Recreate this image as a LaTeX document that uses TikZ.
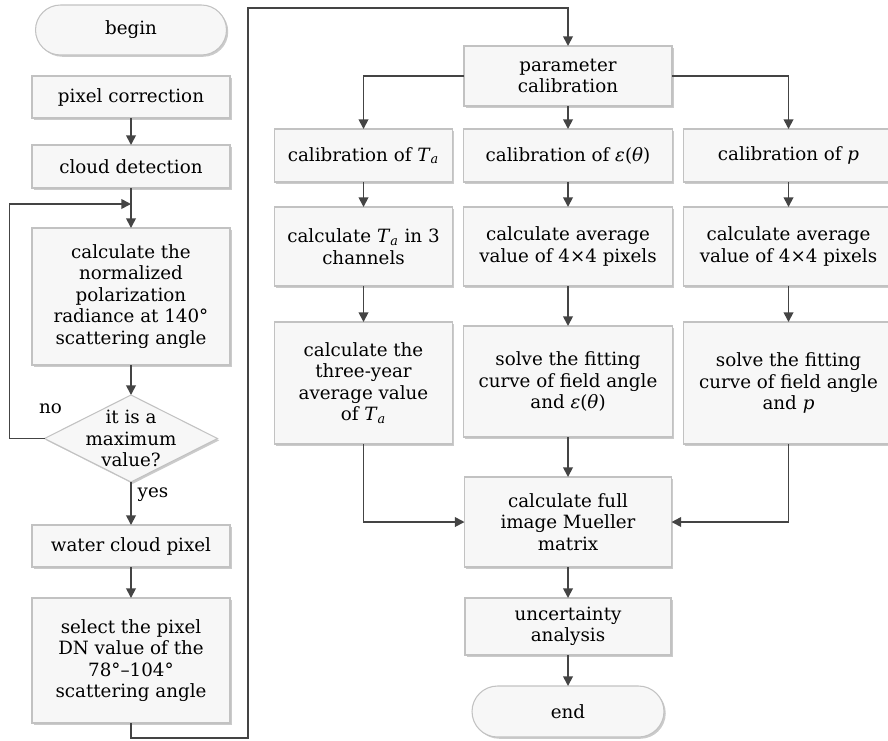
\documentclass[tikz,border=0pt]{standalone}
\usepackage{amsmath}
\usepackage{fontspec}
\setmainfont{DejaVu Serif}
\usetikzlibrary{arrows.meta, positioning, shapes.geometric, shapes.misc, shadows}
\definecolor{cLine}{HTML}{444444}
\definecolor{cEdge}{HTML}{C2C2C2}
\definecolor{cFill}{HTML}{F7F7F7}
\definecolor{cShade}{HTML}{A0A0A0}
\newcommand{\Ta}{\textit{T}\textsubscript{\textit{a}}}
\newcommand{\eps}{\textit{ε}(\textit{θ})}

\begin{document}
\begin{tikzpicture}[
    font=\fontsize{10.4}{12.2}\selectfont,
    dims/.style 2 args={minimum width=#1, minimum height=#2},
    box/.style={draw=cEdge, fill=cFill, line width=0.6pt, align=center,
                inner sep=2pt, outer sep=0pt,
                drop shadow={shadow xshift=1pt, shadow yshift=-1pt,
                             fill=cShade, opacity=0.55}},
    term/.style={box, rounded rectangle},
    decision/.style={box, diamond, inner sep=0pt},
    arr/.style={-{Triangle[length=5.5pt, width=5.5pt]}, line width=1pt, draw=cLine},
    lbl/.style={inner sep=1pt},
  ]
  \useasboundingbox (0,0) rectangle (17.76,-14.8);

  % ── LEFT COLUMN: PIXEL SELECTION ──
  \node[term, dims={3.96cm}{1cm}] (begin) at (2.62,-0.6) {begin};
  \node[box, dims={3.96cm}{0.84cm}, below=0.42cm of begin] (pix) {pixel correction};
  \node[box, dims={3.96cm}{0.86cm}, below=0.54cm of pix] (cloud) {cloud detection};
  \draw[arr] (pix) -- (cloud);

  \node[box, dims={3.96cm}{2.74cm}, below=0.8cm of cloud] (norm)
    {calculate the\\normalized\\polarization\\radiance at 140°\\scattering angle};
  \draw[arr] (cloud) -- (norm);
  \coordinate[below=0.32cm of cloud] (join);

  % ── MAXIMUM CHECK ──
  \node[decision, dims={3.46cm}{1.74cm}, below=0.6cm of norm,
        label={[align=center]center:it is a\\maximum\\value?}] (max) {};
  \draw[arr] (norm) -- (max);
  \draw[arr] (max.west) -- ++(-0.7,0) |- (join);
  \node[lbl] at ([xshift=0.12cm, yshift=0.6cm]max.west) {no};

  \node[box, dims={3.96cm}{0.84cm}, below=0.86cm of max] (water) {water cloud pixel};
  \draw[arr] (max) -- node[pos=0.3, right] {yes} (water);

  \node[box, dims={3.96cm}{2.5cm}, below=0.62cm of water] (sel)
    {select the pixel\\DN value of the\\78°–104°\\scattering angle};
  \draw[arr] (water) -- (sel);

  % ── PARAMETER CALIBRATION ──
  \node[box, dims={4.16cm}{1.2cm}] (param) at (11.36,-1.52) {parameter\\calibration};
  \coordinate[above=0.76cm of param] (top);
  \coordinate[right=0.36cm of sel] (side);
  \draw[arr] (sel.south) -- ++(0,-0.3) -| (side) |- (top) -- (param);

  \node[box, dims={4.18cm}{1.06cm}, below=0.46cm of param] (calE) {calibration of \eps};
  \node[box, dims={3.56cm}{1.06cm}, left=0.22cm of calE] (calT) {calibration of \Ta};
  \node[box, dims={4.2cm}{1.06cm}, right=0.22cm of calE] (calP) {calibration of \textit{p}};
  \draw[arr] (param) -- (calE);
  \draw[arr] (param.west) -| (calT);
  \draw[arr] (param.east) -| (calP);

  % ── PER-PARAMETER STEPS ──
  \node[box, dims={3.56cm}{1.58cm}, below=0.5cm of calT] (chT) {calculate \Ta{} in 3\\channels};
  \node[box, dims={4.18cm}{1.58cm}, below=0.5cm of calE] (avE) {calculate average\\value of 4×4 pixels};
  \node[box, dims={4.2cm}{1.58cm}, below=0.5cm of calP] (avP) {calculate average\\value of 4×4 pixels};
  \draw[arr] (calT) -- (chT);
  \draw[arr] (calE) -- (avE);
  \draw[arr] (calP) -- (avP);

  \node[box, dims={3.56cm}{2.44cm}, below=0.72cm of chT] (yrT)
    {calculate the\\three-year\\average value\\of \Ta};
  \node[box, dims={4.18cm}{2.22cm}, below=0.8cm of avE] (fitE)
    {solve the fitting\\curve of field angle\\and \eps};
  \node[box, dims={4.2cm}{2.44cm}, below=0.72cm of avP] (fitP)
    {solve the fitting\\curve of field angle\\and \textit{p}};
  \draw[arr] (chT) -- (yrT);
  \draw[arr] (avE) -- (fitE);
  \draw[arr] (avP) -- (fitP);

  % ── MERGE AND END ──
  \node[box, dims={4.14cm}{1.8cm}, below=0.8cm of fitE] (mue) {calculate full\\image Mueller\\matrix};
  \draw[arr] (fitE) -- (mue);
  \draw[arr] (yrT) |- (mue);
  \draw[arr] (fitP) |- (mue);

  \node[box, dims={4.12cm}{1.14cm}, below=0.62cm of mue] (unc) {uncertainty\\analysis};
  \draw[arr] (mue) -- (unc);
  \node[term, dims={3.98cm}{1.02cm}, below=0.62cm of unc] (end) {end};
  \draw[arr] (unc) -- (end);
\end{tikzpicture}
\end{document}
